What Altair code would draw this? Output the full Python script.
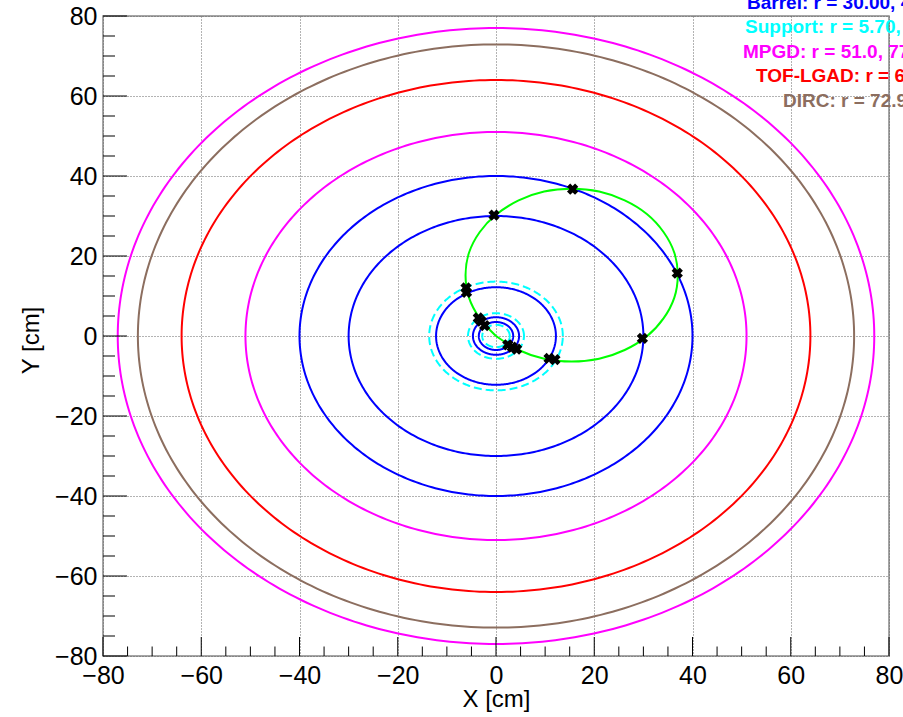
import altair as alt
import pandas as pd
import numpy as np

# ---------------- data ----------------
vertex_r = [3.5, 4.7, 12.2]          # blue
barrel_r = [30.0, 40.0]              # blue
support_r = [2.8, 5.7, 13.6]         # cyan dashed
mpgd_r = [51.0, 77.0]                # magenta
tof_r = [64.0]                       # red
dirc_r = [72.9]                      # brown

track_x = [0.0, -3.3, -5.5, -6.2, -5.5, -3.3, 0.0, 4.6, 9.8, 15.4, 21.0, 26.2,
           30.7, 34.1, 36.3, 37.0, 36.3, 34.1, 30.7, 26.2, 21.0, 15.4, 9.8, 4.6, 0.0]
track_y = [0.0, 4.4, 9.6, 15.2, 20.8, 26.0, 30.3, 33.9, 36.1, 36.8, 36.1, 33.9,
           30.5, 26.0, 20.8, 15.2, 9.6, 4.4, -0.1, -3.5, -5.7, -6.4, -5.7, -3.5, 0.0]

hit_x = [-0.4, 15.6, 36.9, 29.8, -6.1, -6.0, -3.6, -3.0, -2.3, 2.4, 3.3, 4.2, 10.8, 12.0]
hit_y = [30.2, 36.7, 15.7, -0.6, 12.0, 10.9, 4.5, 3.7, 2.6, -2.2, -2.8, -3.3, -5.6, -5.9]

legend_text = ["Barrel: r = 30.00, 40.00 cm",
               "Support: r = 5.70, 13.60 cm",
               "MPGD: r = 51.0, 77.0 cm",
               "TOF-LGAD: r = 64.0 cm",
               "DIRC: r = 72.9 cm"]
legend_color = ["#0000ff", "#00ffff", "#ff00ff", "#ff0000", "#8c6e5f"]

x_major = [-80, -60, -40, -20, 0, 20, 40, 60, 80]
y_major = [-80, -60, -40, -20, 0, 20, 40, 60, 80]
x_minor = [v for v in range(-80, 81, 5) if v % 20 != 0]
y_minor = [v for v in range(-80, 81, 5) if v % 20 != 0]

# ---------------- layout ----------------
W, H = 786, 640
PAD = {"left": 103, "top": 16, "right": 14, "bottom": 61}
FONT = "Liberation Sans"

legend_px = [644, 642, 640, 653, 680]     # left edge of each legend line (plot coords)
legend_py = [-7, 17, 42, 66, 91]          # baseline of each legend line (plot coords)

xscale = alt.Scale(domain=[-80, 80], nice=False, zero=False)
yscale = alt.Scale(domain=[-80, 80], nice=False, zero=False)

xaxis = alt.Axis(values=x_major, grid=True, gridDash=[1, 2], gridColor="#666",
                 gridWidth=1, ticks=False, tickSize=0, domain=False,
                 labelFont=FONT, labelFontSize=25, labelColor="black",
                 labelPadding=7, labelFlush=False, labelOverlap=False,
                 title="X [cm]", titleFont=FONT, titleFontSize=24,
                 titleFontWeight="normal", titleColor="black",
                 titleX=393, titleY=50, titleBaseline="alphabetic")
yaxis = alt.Axis(values=y_major, grid=True, gridDash=[1, 2], gridColor="#666",
                 gridWidth=1, ticks=False, tickSize=0, domain=False,
                 labelFont=FONT, labelFontSize=25, labelColor="black",
                 labelPadding=6, labelFlush=False, labelOverlap=False,
                 title="Y [cm]", titleFont=FONT, titleFontSize=24,
                 titleFontWeight="normal", titleColor="black",
                 titleX=-65, titleY=324, titleBaseline="alphabetic")


def X(field):
    return alt.X(field, type="quantitative", scale=xscale, axis=xaxis)


def Y(field):
    return alt.Y(field, type="quantitative", scale=yscale, axis=yaxis)


theta = np.linspace(0, 2 * np.pi, 361)


def rings(radii, color, dash=None):
    rows = []
    for k, r in enumerate(radii):
        for i, t in enumerate(theta):
            rows.append({"ring": k, "i": i, "x": r * np.cos(t), "y": r * np.sin(t)})
    df = pd.DataFrame(rows)
    kw = dict(color=color, strokeWidth=2)
    if dash is not None:
        kw["strokeDash"] = dash
    return alt.Chart(df).mark_line(**kw).encode(
        x=X("x"), y=Y("y"), detail="ring:N", order="i:Q")


layers = [
    rings(vertex_r + barrel_r, "#0000ff"),
    rings(support_r, "#00ffff", [8, 4]),
    rings(mpgd_r, "#ff00ff"),
    rings(tof_r, "#ff0000"),
    rings(dirc_r, "#8c6e5f"),
]

track_df = pd.DataFrame({"x": track_x, "y": track_y, "i": range(len(track_x))})
layers.append(alt.Chart(track_df).mark_line(color="#00ff00", strokeWidth=2,
                                            interpolate="cardinal").encode(
    x=X("x"), y=Y("y"), order="i:Q"))

hits_df = pd.DataFrame({"x": hit_x, "y": hit_y})
layers.append(alt.Chart(hits_df).mark_point(shape="cross", angle=45, filled=True,
                                            color="black", opacity=1, size=130).encode(
    x=X("x"), y=Y("y")))

# axis ticks drawn inside the frame (ROOT style)
for vals, length in [(x_major, 19), (x_minor, 9.5)]:
    layers.append(alt.Chart(pd.DataFrame({"v": vals})).mark_rule(
        color="black", strokeWidth=1).encode(
        x=X("v"), y=alt.value(H), y2=alt.value(H - length)))
for vals, length in [(y_major, 24), (y_minor, 12)]:
    layers.append(alt.Chart(pd.DataFrame({"v": vals})).mark_rule(
        color="black", strokeWidth=1).encode(
        y=Y("v"), x=alt.value(0), x2=alt.value(length)))

for txt, col, px, py in zip(legend_text, legend_color, legend_px, legend_py):
    layers.append(alt.Chart(pd.DataFrame({"t": [txt]})).mark_text(
        font=FONT, fontSize=19, fontWeight="bold", color=col,
        align="left", baseline="alphabetic").encode(
        x=alt.value(px), y=alt.value(py), text="t:N"))

chart = alt.layer(*layers).properties(
    width=W, height=H, padding=PAD,
    autosize=alt.AutoSizeParams(type="none"),
    background="white",
).configure_view(stroke="#888888", strokeWidth=1.5)

chart.save("out.html", embed_options={"renderer": "svg", "actions": False})
